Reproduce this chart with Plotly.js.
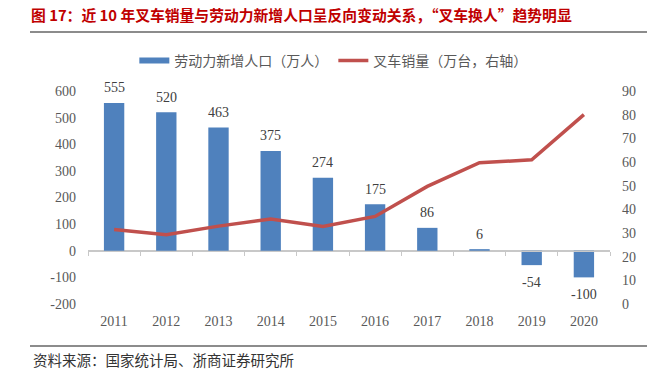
<!DOCTYPE html>
<html>
<head>
<meta charset="utf-8">
<script src="https://cdn.plot.ly/plotly-3.0.1.min.js"></script>
<style>html,body{margin:0;padding:0;background:#fff;}#chart{width:669px;height:375px;}</style>
</head>
<body>
<div id="chart"></div>
<script>
// ---- data ----
const years = ['2011','2012','2013','2014','2015','2016','2017','2018','2019','2020'];
const laborIncrease = [555, 520, 463, 375, 274, 175, 86, 6, -54, -100];   // 劳动力新增人口（万人）
const forkliftSales = [31.5, 29.3, 32.9, 35.9, 32.8, 37.0, 49.7, 59.7, 60.9, 80.0]; // 叉车销量（万台，右轴）
const leftTicks = [-200, -100, 0, 100, 200, 300, 400, 500, 600];
const rightTicks = [0, 10, 20, 30, 40, 50, 60, 70, 80, 90];
const barName = '劳动力新增人口（万人）';
const lineName = '叉车销量（万台，右轴）';
const titleText = '图 17：近 10 年叉车销量与劳动力新增人口呈反向变动关系，“叉车换人”趋势明显';
const sourceText = '资料来源：国家统计局、浙商证券研究所';

const BLUE = '#4F81BD', RED = '#C0504D', GREY = '#595959';
const SERIF = 'Liberation Serif, Times New Roman, serif';
const CJK = 'Noto Sans CJK SC, sans-serif';

// plot area geometry (pixels)
const W = 669, H = 375, L = 88, R = 610, T = 91, B = 304;
const pw = R - L, ph = B - T;
const px = x => (x - L) / pw;
const py = y => (B - y) / ph;

const traces = [
  { type: 'bar', x: years, y: laborIncrease, name: barName, marker: { color: BLUE },
    width: 0.39, showlegend: false, hoverinfo: 'x+y' },
  // legend swatch for bars (legend-only entry, draws no marks)
  { type: 'scatter', x: [years[0]], y: [null], mode: 'lines', name: barName,
    line: { color: BLUE, width: 6 }, showlegend: true, connectgaps: false },
  { type: 'scatter', x: years, y: forkliftSales, mode: 'lines', name: lineName,
    yaxis: 'y2', line: { color: RED, width: 3.5 } },
  // helper (invisible) so the zero-line axis ticks are drawn
  { type: 'scatter', x: years, y: laborIncrease, xaxis: 'x2', mode: 'none',
    showlegend: false, hoverinfo: 'skip' }
];

const annotations = laborIncrease.map((v, i) => ({
  x: i, y: v, xref: 'x', yref: 'y', text: String(v), showarrow: false,
  yanchor: 'middle', yshift: v >= 0 ? 15 : -17,
  font: { family: SERIF, size: 14, color: '#404040' }
}));
annotations.push({
  xref: 'paper', yref: 'paper', x: px(31), y: py(359), xanchor: 'left', yanchor: 'middle',
  text: sourceText, showarrow: false, font: { family: CJK, size: 14.5, color: '#333333' }
});

const layout = {
  width: W, height: H,
  paper_bgcolor: '#fff', plot_bgcolor: '#fff',
  margin: { l: L, r: W - R, t: T, b: H - B, autoexpand: false },
  title: { text: titleText, x: 31 / W, xanchor: 'left', xref: 'container',
           y: 1 - 16 / H, yanchor: 'middle', yref: 'container',
           font: { family: CJK, size: 14.8, color: '#C00000', weight: 'bold' } },
  showlegend: true,
  legend: { orientation: 'h', x: 0.47, xanchor: 'center', y: py(61), yanchor: 'middle',
            font: { family: CJK, size: 14, color: GREY }, traceorder: 'normal',
            bgcolor: 'rgba(0,0,0,0)' },
  xaxis: { type: 'category', range: [-0.5, 9.5], showline: false, ticks: '',
           showgrid: false, zeroline: false, ticklabelstandoff: 7,
           tickfont: { family: SERIF, size: 14, color: GREY } },
  xaxis2: { type: 'category', overlaying: 'x', anchor: 'free', position: 0.25,
            range: [-0.5, 9.5], showline: true, linecolor: '#C8C8C8', linewidth: 1,
            ticks: 'outside', tickson: 'boundaries', ticklen: 4, tickcolor: '#C8C8C8',
            showticklabels: false, showgrid: false, zeroline: false },
  yaxis: { range: [-200, 600], tickvals: leftTicks, ticktext: leftTicks.map(String), ticks: '',
           showline: false, showgrid: false, zeroline: true, zerolinecolor: '#C8C8C8',
           zerolinewidth: 1, ticklabelstandoff: 11,
           tickfont: { family: SERIF, size: 14, color: GREY } },
  yaxis2: { range: [0, 90], tickvals: rightTicks, ticktext: rightTicks.map(String),
            overlaying: 'y', side: 'right',
            ticks: '', showline: false, showgrid: false, zeroline: false,
            ticklabelstandoff: 11, tickfont: { family: SERIF, size: 14, color: GREY } },
  annotations: annotations,
  shapes: [
    { type: 'line', xref: 'paper', yref: 'paper', x0: px(30), x1: px(647), y0: py(32), y1: py(32),
      line: { color: '#8C8C8C', width: 2 } },
    { type: 'line', xref: 'paper', yref: 'paper', x0: px(30), x1: px(647), y0: py(346), y1: py(346),
      line: { color: '#8C8C8C', width: 2 } }
  ]
};

Plotly.newPlot('chart', traces, layout, { displayModeBar: false, staticPlot: true });
</script>
</body>
</html>
